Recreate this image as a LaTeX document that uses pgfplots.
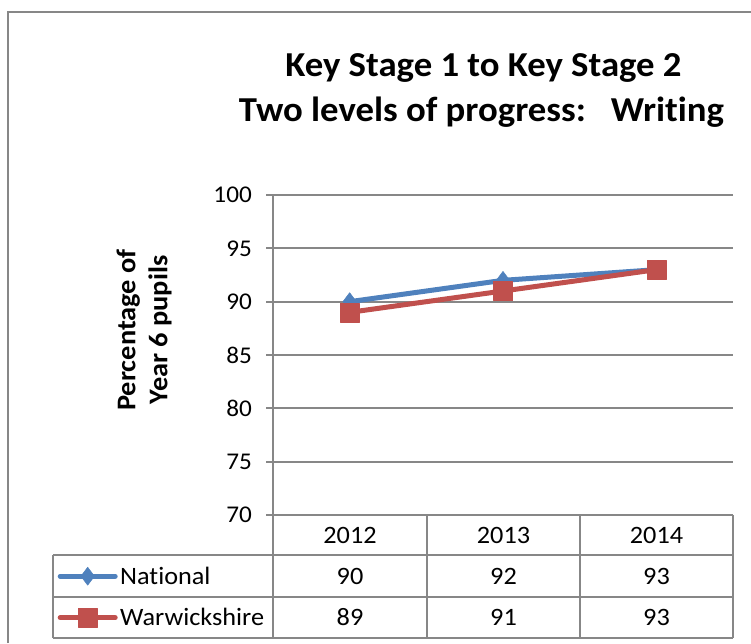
\documentclass[border=0pt]{standalone}
\usepackage{fontspec}
\setmainfont{Carlito}[FakeStretch=1.05, Ligatures={NoCommon}]
\usepackage{pgfplots}
\pgfplotsset{compat=1.18}
\definecolor{natblue}{HTML}{4F81BD}
\definecolor{warred}{HTML}{C0504D}
\definecolor{gridgray}{HTML}{878787}

\begin{document}
\begin{tikzpicture}[x=1pt,y=1pt]
\useasboundingbox (0,0) rectangle (751,-643);
% outer chart border
\draw[gridgray, line width=1.3pt] (8,-643) -- (8,-12) -- (751,-12);
\begin{axis}[
  at={(273pt,-515pt)}, anchor=south west,
  scale only axis, width=460pt, height=320pt,
  xmin=0.5, xmax=3.5, ymin=70, ymax=100,
  ytick={70,75,...,100}, xtick=\empty,
  axis x line=bottom, axis y line=left,
  axis line style={-, gridgray, line width=1.8pt},
  ymajorgrids, grid style={gridgray, line width=1.8pt},
  tick align=outside, major tick length=7pt,
  ytick style={gridgray, line width=1.8pt},
  /pgf/number format/assume math mode=true,
  yticklabel style={font=\fontsize{24}{29}\selectfont, inner sep=0pt, anchor=east, xshift=-14pt},
  clip=false,
  legend cell align=left,
  legend style={at={(axis description cs:-0.46304,-0.159375)}, anchor=north west,
    draw=none, fill=none, inner sep=0pt, row sep=21.5pt, column sep=5pt,
    font=\fontsize{25}{30}\selectfont,
    nodes={inner sep=0pt, text height=16.1pt, text depth=0pt}},
  legend image code/.code={
    \path[draw=none, fill=none] (0pt,-10pt) rectangle (55pt,10pt);
    \draw[overlay, mark repeat=2, mark phase=2] plot coordinates {(0pt,0pt) (27.5pt,0pt) (55pt,0pt)};
  },
]
\addplot[natblue, line width=5pt, line cap=round, line join=round, mark=diamond*, mark size=9pt,
  mark options={solid, line width=0.5pt}] coordinates {(1,90) (2,92) (3,93)};
\addlegendentry{National}
\addplot[warred, line width=5pt, line cap=round, line join=round, mark=square*, mark size=9.5pt,
  mark options={solid, line width=0.5pt}] coordinates {(1,89) (2,91) (3,93)};
\addlegendentry{Warwickshire}
\end{axis}
% data table grid
\draw[gridgray, line width=1.8pt]
  (53,-555) -- (733,-555)
  (53,-597) -- (733,-597)
  (53,-638) -- (733,-638)
  (53,-555) -- (53,-638)
  (273,-515) -- (273,-638)
  (427,-515) -- (427,-638)
  (580,-515) -- (580,-638)
  (733,-515) -- (733,-638);
\begin{scope}[every node/.style={anchor=base, font=\fontsize{25}{30}\selectfont}]
\node at (350,-543) {2012};
\node at (503.5,-543) {2013};
\node at (656.5,-543) {2014};
\node at (350,-584) {90};
\node at (503.5,-584) {92};
\node at (656.5,-584) {93};
\node at (350,-625) {89};
\node at (503.5,-625) {91};
\node at (656.5,-625) {93};
\end{scope}
% title
\node[anchor=base, font=\fontsize{35}{42}\selectfont\bfseries] at (483.5,-76) {Key Stage 1 to Key Stage 2};
\node[anchor=base, font=\fontsize{35}{42}\selectfont\bfseries] at (481.5,-121) {Two levels of progress:\ \ \ Writing};
% y label
\node[rotate=90, align=center, font=\fontsize{27}{32}\selectfont\bfseries] at (144,-330) {Percentage of\\Year 6 pupils};
\end{tikzpicture}
\end{document}
